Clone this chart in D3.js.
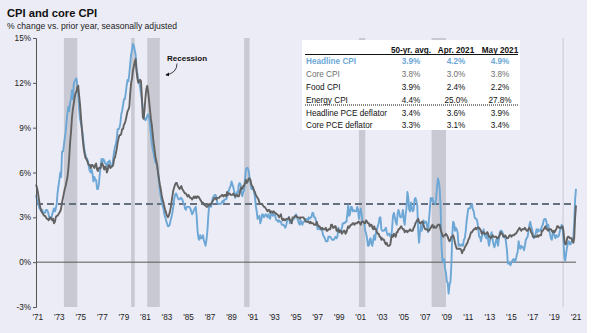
<!DOCTYPE html>
<html>
<head>
<meta charset="utf-8">
<script src="https://cdnjs.cloudflare.com/ajax/libs/d3/7.8.5/d3.min.js"></script>
<style>
body { margin: 0; background: #fff; }
svg text { font-family: "Liberation Sans", Arial, sans-serif; }
</style>
</head>
<body>
<script>
// monthly y/y % change, first value is March 1971
var firstMonth = "1971-03";

var headlineCpi = [
  4.5,4.2,4.0,3.8,3.6,3.5,3.4,3.5,3.3,3.3,
  3.3,3.5,3.5,3.4,3.2,2.9,2.9,2.9,3.2,3.4,3.6,3.4,
  3.6,3.9,4.6,5.1,5.5,6.0,5.7,7.4,7.4,7.8,8.3,8.7,
  9.4,10.0,10.4,10.1,10.7,10.9,11.5,10.9,11.9,12.1,12.2,12.3,
  11.8,11.2,10.3,9.6,9.3,9.0,8.6,8.0,7.5,7.2,7.0,6.9,
  6.7,6.3,6.1,6.0,6.2,5.9,5.4,5.7,5.5,5.5,4.9,4.9,
  5.2,5.9,6.4,6.9,6.7,6.9,6.8,6.6,6.6,6.4,6.7,6.7,
  6.8,6.4,6.4,6.5,6.9,7.4,7.7,7.9,8.3,8.9,8.9,9.0,
  9.3,9.9,10.1,10.5,10.9,10.9,11.3,11.8,12.2,12.1,12.6,13.3,
  13.9,14.2,14.6,14.5,14.2,13.9,13.0,12.6,12.2,12.0,11.7,11.3,
  10.8,10.3,9.8,9.6,9.5,9.6,9.8,9.9,9.7,9.2,8.6,8.0,
  7.6,7.3,7.0,6.7,6.6,6.5,6.0,5.4,4.8,4.4,4.0,3.8,
  3.6,3.2,3.0,2.8,2.6,2.4,2.4,2.5,2.8,3.0,3.3,3.7,
  4.2,4.5,4.6,4.5,4.3,4.2,4.2,4.3,4.3,4.2,4.0,3.9,
  3.6,3.5,3.7,3.7,3.7,3.7,3.6,3.4,3.2,3.3,3.5,3.6,
  3.7,3.1,2.2,1.6,1.5,1.8,1.6,1.6,1.8,1.5,1.3,1.1,
  1.5,2.1,3.0,3.8,3.9,3.7,3.9,4.3,4.4,4.5,4.5,4.4,
  4.0,3.9,3.9,3.9,3.9,4.0,4.1,4.0,4.2,4.2,4.2,4.4,
  4.7,4.8,5.0,5.1,5.4,5.2,5.0,4.7,4.3,4.5,4.7,4.6,
  5.2,5.3,5.2,4.7,4.4,4.7,4.8,5.6,6.2,6.3,6.3,6.1,
  5.7,5.3,4.9,4.9,5.0,4.7,4.4,3.8,3.4,2.9,3.0,3.1,
  2.6,2.8,3.2,3.2,3.0,3.1,3.2,3.1,3.0,3.2,3.0,2.9,
  3.3,3.2,3.1,3.2,3.2,3.0,2.8,2.8,2.7,2.8,2.7,2.7,
  2.5,2.5,2.5,2.4,2.3,2.5,2.8,2.9,3.0,2.6,2.7,2.7,
  2.8,2.9,2.9,3.1,3.2,3.0,2.8,2.6,2.5,2.8,2.6,2.5,
  2.7,2.7,2.8,2.9,2.9,2.8,3.0,2.9,3.0,3.0,3.3,3.3,
  3.0,3.0,2.8,2.5,2.2,2.3,2.2,2.2,2.2,2.1,1.8,1.7,
  1.6,1.4,1.4,1.4,1.7,1.7,1.7,1.6,1.5,1.5,1.5,1.6,
  1.7,1.6,1.7,2.3,2.1,2.0,2.1,2.3,2.6,2.6,2.6,2.7,
  2.7,3.2,3.8,3.1,3.2,3.7,3.7,3.4,3.5,3.4,3.4,3.4,
  3.7,3.5,2.9,3.3,3.6,3.2,2.7,2.7,2.6,2.1,1.9,1.6,
  1.1,1.1,1.5,1.6,1.2,1.1,1.5,1.8,1.5,2.0,2.2,2.4,
  2.6,3.0,3.0,2.2,2.1,2.1,2.1,2.2,2.3,2.0,1.8,1.9,
  1.9,1.7,1.7,2.3,3.1,3.3,3.0,2.7,2.5,3.2,3.5,3.3,
  3.0,3.0,3.1,3.5,2.8,2.5,3.2,3.6,4.7,4.3,3.5,3.4,
  4.0,3.6,3.4,3.5,4.2,4.3,4.1,3.8,2.1,1.3,2.0,2.5,
  2.1,2.4,2.8,2.6,2.7,2.7,2.4,2.0,2.8,3.5,4.3,4.1,
  4.3,4.0,4.0,3.9,4.2,5.0,5.6,5.4,4.9,3.7,1.1,0.1,
  0.0,0.2,-0.4,-0.7,-1.3,-1.4,-2.1,-1.5,-1.3,-0.2,1.8,2.7,
  2.6,2.1,2.3,2.2,2.0,1.1,1.2,1.1,1.1,1.2,1.1,1.5,
  1.6,2.1,2.7,3.2,3.6,3.6,3.6,3.8,3.9,3.5,3.4,3.0,
  2.9,2.9,2.7,2.3,1.7,1.7,1.4,1.7,2.0,2.2,1.8,1.7,
  1.6,2.0,1.5,1.1,1.4,1.8,2.0,1.5,1.2,1.0,1.2,1.5,
  1.6,1.1,1.5,2.0,2.1,2.1,2.0,1.7,1.7,1.7,1.3,0.8,
  -0.1,0.0,-0.1,-0.2,0.0,0.1,0.2,0.2,0.0,0.2,0.5,0.7,
  1.4,1.0,0.9,1.1,1.0,1.0,0.8,1.1,1.5,1.6,1.7,2.1,
  2.5,2.7,2.4,2.2,1.9,1.6,1.7,1.9,2.2,2.0,2.2,2.1,
  2.1,2.2,2.4,2.5,2.8,2.9,2.9,2.7,2.3,2.5,2.2,1.9,
  1.6,1.5,1.9,2.0,1.8,1.6,1.8,1.7,1.7,1.8,2.1,2.3,
  2.5,2.3,1.5,0.3,0.1,0.6,1.0,1.3,1.4,1.2,1.2,1.4,
  1.4,1.7,2.6,4.2,4.9
];

var coreCpi = [
  5.2,5.0,4.7,4.3,3.9,3.6,3.4,3.3,3.2,3.1,
  3.1,3.0,2.9,2.9,2.8,2.9,3.0,2.9,2.8,2.9,2.6,2.7,
  3.0,3.1,3.1,3.2,3.3,3.4,3.6,4.0,4.3,4.6,4.9,5.1,
  5.4,5.7,6.2,7.0,8.0,8.7,9.6,10.2,10.6,11.0,11.3,11.4,
  11.7,11.8,11.2,10.6,9.8,9.0,8.3,7.7,7.3,7.0,6.9,6.8,
  6.6,6.5,6.5,6.3,6.5,6.5,6.4,6.3,6.5,6.6,6.2,6.1,
  6.3,6.3,6.3,6.6,6.6,6.4,6.2,6.4,6.3,6.0,6.2,6.5,
  6.4,6.3,6.4,6.4,6.5,6.9,7.0,7.3,7.6,8.0,8.3,8.5,
  8.5,8.6,8.9,8.9,9.2,9.3,9.5,9.8,10.1,10.2,10.4,11.3,
  12.0,12.3,12.8,13.1,13.4,13.6,12.8,12.3,12.0,12.1,12.2,12.1,
  11.0,9.7,9.6,10.2,11.0,11.6,11.8,11.4,10.8,10.2,9.6,9.2,
  8.6,8.0,7.6,7.1,6.8,6.5,6.0,5.6,5.2,4.9,4.5,4.2,
  4.0,3.7,3.5,3.3,3.1,3.0,3.1,3.3,3.6,4.0,4.4,4.8,
  5.0,5.2,5.3,5.3,5.1,5.0,4.9,5.0,5.1,4.9,4.8,4.7,
  4.6,4.6,4.5,4.4,4.5,4.4,4.3,4.3,4.2,4.3,4.4,4.3,
  4.4,4.3,4.4,4.4,4.3,4.2,4.1,4.0,4.0,3.9,3.8,3.8,
  3.7,3.7,3.8,3.9,3.8,3.9,4.0,4.1,4.2,4.3,4.3,4.2,
  4.3,4.3,4.3,4.4,4.4,4.5,4.5,4.4,4.5,4.5,4.4,4.7,
  4.5,4.6,4.6,4.5,4.5,4.5,4.6,4.5,4.4,4.5,4.5,4.4,
  4.4,4.6,4.9,5.0,4.9,5.1,5.1,5.3,5.5,5.3,5.4,5.6,
  5.6,5.5,5.2,5.1,5.0,4.8,4.7,4.5,4.4,4.3,4.2,4.0,
  3.9,3.9,3.9,3.8,3.7,3.7,3.6,3.5,3.4,3.5,3.5,3.3,
  3.4,3.4,3.3,3.4,3.3,3.3,3.2,3.2,3.1,3.0,3.1,3.2,
  2.9,2.8,2.9,2.8,2.8,2.9,2.9,2.9,3.0,2.8,2.8,2.6,
  3.0,3.0,3.0,3.1,3.1,3.0,3.0,3.0,2.9,3.0,3.0,3.0,
  3.0,2.9,2.8,2.7,2.7,2.7,2.7,2.6,2.7,2.6,2.6,2.6,
  2.5,2.5,2.5,2.7,2.5,2.4,2.4,2.3,2.2,2.3,2.2,2.2,
  2.2,2.3,2.1,2.1,2.2,2.2,2.2,2.5,2.5,2.3,2.3,2.4,
  2.4,2.1,2.1,2.2,2.0,2.1,2.1,1.9,2.0,2.1,2.1,1.9,
  2.0,2.2,2.4,2.3,2.4,2.5,2.5,2.6,2.6,2.5,2.6,2.6,
  2.6,2.7,2.7,2.6,2.5,2.7,2.7,2.7,2.6,2.6,2.8,2.7,
  2.6,2.6,2.4,2.5,2.5,2.3,2.2,2.4,2.2,2.2,2.0,1.9,
  1.9,1.7,1.7,1.5,1.6,1.5,1.5,1.3,1.2,1.3,1.1,1.1,
  1.1,1.2,1.6,1.8,1.7,1.9,1.8,1.7,2.0,2.0,2.2,2.2,
  2.3,2.4,2.3,2.2,2.2,2.0,2.1,2.1,2.0,2.1,2.1,2.2,
  2.1,2.1,2.1,2.3,2.4,2.6,2.7,2.8,2.9,2.7,2.6,2.6,
  2.7,2.7,2.5,2.3,2.2,2.2,2.2,2.1,2.1,2.2,2.3,2.4,
  2.5,2.3,2.4,2.3,2.3,2.4,2.5,2.5,2.5,2.2,2.0,1.8,
  1.7,1.8,1.8,1.9,1.8,1.7,1.5,1.4,1.5,1.7,1.7,1.8,
  1.6,1.3,1.1,0.9,0.9,0.9,0.9,0.9,0.8,0.6,0.8,0.8,
  1.0,1.1,1.2,1.3,1.5,1.6,1.8,2.0,2.0,2.1,2.2,2.2,
  2.3,2.2,2.3,2.3,2.3,2.2,2.1,1.9,2.0,2.0,1.9,1.9,
  1.9,2.0,1.9,1.7,1.7,1.6,1.7,1.8,1.7,1.7,1.7,1.7,
  1.6,1.6,1.7,1.8,2.0,1.9,1.9,1.7,1.7,1.8,1.7,1.6,
  1.6,1.7,1.8,1.8,1.7,1.8,1.8,1.8,1.9,1.9,2.0,2.1,
  2.2,2.3,2.2,2.1,2.2,2.2,2.2,2.3,2.2,2.1,2.1,2.2,
  2.3,2.2,2.0,1.9,1.7,1.7,1.7,1.7,1.7,1.8,1.7,1.8,
  1.8,1.8,2.1,2.1,2.2,2.3,2.4,2.2,2.2,2.1,2.2,2.2,
  2.2,2.1,2.0,2.1,2.0,2.1,2.2,2.4,2.4,2.3,2.3,2.3,
  2.3,2.4,2.1,1.4,1.2,1.2,1.6,1.7,1.7,1.6,1.6,1.6,
  1.4,1.3,1.6,3.0,3.8
];

var recessions = [
  ["1973-10", "1975-01"],
  ["1980-01", "1980-05"],
  ["1981-07", "1982-09"],
  ["1990-07", "1991-01"],
  ["2001-03", "2001-10"],
  ["2007-12", "2009-04"],
  ["2020-02", "2020-03"]
];

var avgHeadline = 3.9;
var yTicks = [-3, 0, 3, 6, 9, 12, 15];
var xTickYears = d3.range(1971, 2022, 2);

var tableHeads = ["50-yr. avg.", "Apr. 2021", "May 2021"];
var tableRows = ["Headline CPI", "Core CPI", "Food CPI", "Energy CPI", "Headline PCE deflator", "Core PCE deflator"];
var tableAvg = ["3.9%", "3.8%", "3.9%", "4.4%", "3.4%", "3.3%"];
var tableApr = ["4.2%", "3.0%", "2.4%", "25.0%", "3.6%", "3.1%"];
var tableMay = ["4.9%", "3.8%", "2.2%", "27.8%", "3.9%", "3.4%"];

var W = 595, H = 333;
var blue = "#6da7d6", grey = "#626262";

var parseMonth = d3.timeParse("%Y-%m");
var start = parseMonth(firstMonth);
var dates = headlineCpi.map(function(v, i) { return d3.timeMonth.offset(start, i); });

var x = d3.scaleTime()
  .domain([start, dates[dates.length - 1]])
  .range([36, 576]);
var y = d3.scaleLinear()
  .domain([-3, 15])
  .range([307, 38]);

var svg = d3.select("body").append("svg")
  .attr("width", W)
  .attr("height", H);

svg.append("rect")
  .attr("x", 0).attr("y", 0)
  .attr("width", 587).attr("height", H)
  .attr("fill", "#ececf6");

// title
svg.append("text")
  .attr("x", 7).attr("y", 17)
  .attr("font-size", 11.2).attr("font-weight", "bold")
  .attr("fill", "#111")
  .text("CPI and core CPI");
svg.append("text")
  .attr("x", 7).attr("y", 28.5)
  .attr("font-size", 8.6)
  .attr("fill", "#222")
  .text("% change vs. prior year, seasonally adjusted");

// recession bars
svg.selectAll(".rec")
  .data(recessions)
  .enter().append("rect")
  .attr("class", "rec")
  .attr("x", function(d) { return x(parseMonth(d[0])); })
  .attr("width", function(d) { return Math.max(1, x(parseMonth(d[1])) - x(parseMonth(d[0]))); })
  .attr("y", y(15))
  .attr("height", y(-3) - y(15))
  .attr("fill", "#c9c9d3");

// zero line
svg.append("line")
  .attr("x1", x(start)).attr("x2", x(dates[dates.length - 1]))
  .attr("y1", y(0)).attr("y2", y(0))
  .attr("stroke", "#555").attr("stroke-width", 1);

// 50 yr average
svg.append("line")
  .attr("x1", x(start)).attr("x2", x(dates[dates.length - 1]) - 1)
  .attr("y1", y(avgHeadline)).attr("y2", y(avgHeadline))
  .attr("stroke", "#66707e").attr("stroke-width", 2)
  .attr("stroke-dasharray", "7,4");

var line = d3.line()
  .x(function(d, i) { return x(dates[i]); })
  .y(function(d) { return y(d); });

svg.append("path")
  .datum(headlineCpi)
  .attr("d", line)
  .attr("fill", "none")
  .attr("stroke", blue)
  .attr("stroke-width", 1.9)
  .attr("stroke-linejoin", "round");

svg.append("path")
  .datum(coreCpi)
  .attr("d", line)
  .attr("fill", "none")
  .attr("stroke", grey)
  .attr("stroke-width", 1.9)
  .attr("stroke-linejoin", "round");

// axes
var yAxis = svg.append("g")
  .attr("transform", "translate(36,0)")
  .call(d3.axisLeft(y).tickValues(yTicks).tickSize(3).tickFormat(function(d) { return d + "%"; }));
yAxis.select(".domain").attr("stroke", "#555");
yAxis.selectAll("line").attr("stroke", "#555");
yAxis.selectAll("text").attr("font-size", 8.2).attr("fill", "#222").attr("x", -5);

var xAxis = svg.append("g")
  .attr("transform", "translate(0,310)")
  .call(d3.axisBottom(x)
    .tickValues(xTickYears.map(function(yr) { return new Date(yr, 0, 1); }))
    .tickSize(0)
    .tickFormat(function(d) { return "'" + d3.timeFormat("%y")(d); }));
xAxis.select(".domain").remove();
xAxis.selectAll("text").attr("font-size", 8.2).attr("fill", "#222").attr("dx", 3).attr("dy", "0.9em");

// recession label
var defs = svg.append("defs");
defs.append("marker")
  .attr("id", "arr")
  .attr("viewBox", "0 0 6 6")
  .attr("refX", 5).attr("refY", 3)
  .attr("markerWidth", 5).attr("markerHeight", 5)
  .attr("orient", "auto")
  .append("path")
  .attr("d", "M0,0L6,3L0,6z")
  .attr("fill", "#111");

svg.append("text")
  .attr("x", 167).attr("y", 60.5)
  .attr("font-size", 8).attr("font-weight", "bold")
  .attr("fill", "#111")
  .text("Recession");
svg.append("path")
  .attr("d", "M177,63.5 Q177,73 166,75")
  .attr("fill", "none")
  .attr("stroke", "#111").attr("stroke-width", 0.8)
  .attr("marker-end", "url(#arr)");

// table
var tbl = svg.append("g");
tbl.append("rect")
  .attr("x", 302).attr("y", 40)
  .attr("width", 218).attr("height", 90)
  .attr("fill", "#fff");

var colX = [411, 456, 500];
tbl.selectAll(".th")
  .data(tableHeads)
  .enter().append("text")
  .attr("class", "th")
  .attr("x", function(d, i) { return colX[i]; })
  .attr("y", 52.5)
  .attr("text-anchor", "middle")
  .attr("font-size", 8.2).attr("font-weight", "bold")
  .attr("fill", "#111")
  .text(function(d) { return d; });

tbl.append("line")
  .attr("x1", 305).attr("x2", 518)
  .attr("y1", 54.5).attr("y2", 54.5)
  .attr("stroke", "#111").attr("stroke-width", 1);

var rowY = [63.5, 76.5, 89.5, 102.5, 116, 128];
var rowColor = [blue, "#6e6e6e", "#111", "#111", "#111", "#111"];

tableRows.forEach(function(name, r) {
  var cells = [name, tableAvg[r], tableApr[r], tableMay[r]];
  tbl.selectAll(".r" + r)
    .data(cells)
    .enter().append("text")
    .attr("class", "r" + r)
    .attr("x", function(d, i) { return i == 0 ? 306 : colX[i - 1]; })
    .attr("y", rowY[r])
    .attr("text-anchor", function(d, i) { return i == 0 ? "start" : "middle"; })
    .attr("font-size", 8.2)
    .attr("font-weight", r == 0 ? "bold" : "normal")
    .attr("fill", rowColor[r])
    .text(function(d) { return d; });
});

tbl.append("line")
  .attr("x1", 305).attr("x2", 518)
  .attr("y1", 105).attr("y2", 105)
  .attr("stroke", "#111").attr("stroke-width", 1)
  .attr("stroke-dasharray", "1,1");
</script>
</body>
</html>
